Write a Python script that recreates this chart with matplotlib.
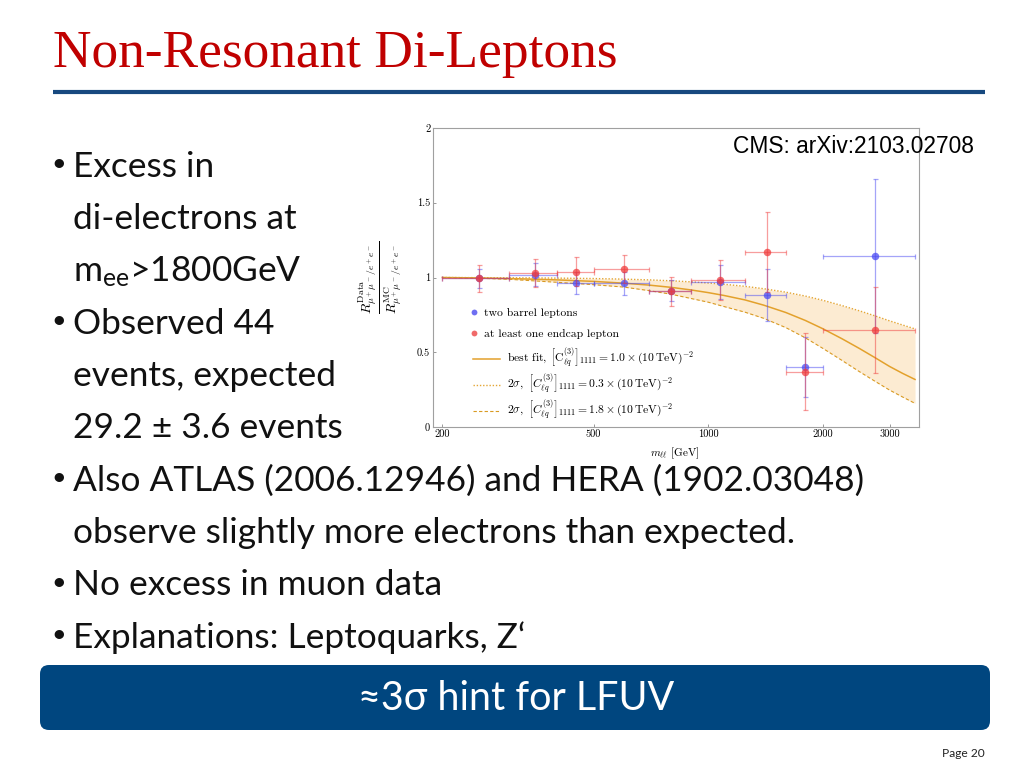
import matplotlib
matplotlib.use('Agg')
import matplotlib.pyplot as plt
from matplotlib.patches import FancyBboxPatch
from matplotlib.lines import Line2D
from matplotlib.ticker import NullLocator

plt.rcParams['mathtext.fontset'] = 'cm'
plt.rcParams['axes.unicode_minus'] = False

# ---------------- data ----------------
bin_lo = [200, 300, 400, 500, 700, 900, 1250, 1600, 2000]
bin_hi = [300, 400, 500, 700, 900, 1250, 1600, 2000, 3500]
barrel_ratio = [0.995, 1.02, 0.961, 0.961, 0.91, 0.968, 0.883, 0.403, 1.144]
barrel_err = [0.065, 0.08, 0.073, 0.078, 0.07, 0.115, 0.173, 0.20, 0.513]
endcap_ratio = [0.995, 1.03, 1.039, 1.055, 0.907, 0.983, 1.171, 0.37, 0.649]
endcap_err = [0.09, 0.095, 0.096, 0.095, 0.097, 0.135, 0.27, 0.257, 0.285]

fit_mass = [200, 250, 300, 400, 500, 600, 700, 800, 900, 1000, 1100, 1250, 1400,
            1600, 1800, 2000, 2250, 2500, 2750, 3000, 3250, 3500]
fit_best = [1.0, 0.997, 0.993, 0.984, 0.974, 0.962, 0.949, 0.934, 0.917, 0.899, 0.880,
            0.850, 0.815, 0.766, 0.713, 0.658, 0.590, 0.525, 0.463, 0.405, 0.358, 0.318]
fit_upper = [1.0, 0.999, 0.998, 0.996, 0.993, 0.989, 0.984, 0.978, 0.971, 0.963, 0.955,
             0.941, 0.925, 0.902, 0.876, 0.848, 0.812, 0.777, 0.743, 0.710, 0.682, 0.656]
fit_lower = [1.0, 0.995, 0.988, 0.968, 0.952, 0.936, 0.912, 0.888, 0.860, 0.835, 0.806,
             0.768, 0.727, 0.665, 0.597, 0.527, 0.445, 0.370, 0.305, 0.247, 0.200, 0.158]

x_ticks = [200, 500, 1000, 2000, 3000]
y_ticks = [0, 0.5, 1, 1.5, 2]
y_tick_labels = ['0', '0.5', '1', '1.5', '2']

title = 'Non-Resonant Di-Leptons'
body_lines = [
    (True, 'Excess in'),
    (False, 'di-electrons at'),
    (False, r'$\mathregular{m_{ee}}$>1800GeV'),
    (True, 'Observed 44'),
    (False, 'events, expected'),
    (False, '29.2 ± 3.6 events'),
    (True, 'Also ATLAS (2006.12946) and HERA (1902.03048)'),
    (False, 'observe slightly more electrons than expected.'),
    (True, 'No excess in muon data'),
    (True, 'Explanations: Leptoquarks, Z‘'),
]
box_text = '≈3σ hint for LFUV'
source_text = 'CMS: arXiv:2103.02708'
page_text = 'Page 20'

# ---------------- figure ----------------
fig = plt.figure(figsize=(10.24, 7.68), dpi=100)
bg = fig.add_axes([0, 0, 1, 1])
bg.set_xlim(0, 1024)
bg.set_ylim(768, 0)
bg.axis('off')
renderer = fig.canvas.get_renderer()


def fit_width(t, target):
    w = t.get_window_extent(renderer).width
    t.set_fontsize(t.get_fontsize() * target / w)
    return t.get_fontsize()


body_font = ['Lato', 'DejaVu Sans']

t = bg.text(53, 67, title, family='Liberation Serif', color='#c00000',
            fontsize=36, va='baseline', ha='left')
fit_width(t, 564)

bg.plot([53, 985], [92, 92], color='#17497f', lw=3.0, solid_capstyle='butt')

# body text
probe = bg.text(73, 0, body_lines[6][1], family=body_font, fontsize=24, va='baseline')
body_size = fit_width(probe, 793)
probe.remove()
baseline0 = 177
step = 52.3
for i, (bullet, txt) in enumerate(body_lines):
    yb = baseline0 + i * step
    if bullet:
        bg.text(59, yb - 13, '•', family=body_font, fontsize=body_size * 0.72,
                va='center', ha='center', color='#111111')
    bg.text(73, yb, txt, family=body_font, fontsize=body_size, va='baseline',
            color='#111111')

box = FancyBboxPatch((40, 665), 950, 65, boxstyle='round,pad=0,rounding_size=9',
                     fc='#00467f', ec='none')
bg.add_patch(box)
t = bg.text(516, 710, box_text, family=body_font, color='white', fontsize=26,
            ha='center', va='baseline')
fit_width(t, 317)

t = bg.text(942, 757, page_text, family=body_font, color='#222222', fontsize=8,
            va='baseline')
fit_width(t, 43)

# ---------------- chart ----------------
ax = fig.add_axes([433 / 1024, 1 - 427 / 768, 486 / 1024, 299 / 768])
ax.set_xscale('log')
ax.set_xlim(189, 3585)
ax.set_ylim(0, 2)

gold = '#e3a12c'
gold_dot = '#e4a635'
gold_dash = '#d99a22'
ax.fill_between(fit_mass, fit_lower, fit_upper, color='#fcebd2', lw=0, zorder=1)
ax.plot(fit_mass, fit_best, color=gold, lw=1.1, zorder=2)
ax.plot(fit_mass, fit_upper, color=gold_dot, lw=1.0, ls=(0, (1, 1.3)), zorder=2)
ax.plot(fit_mass, fit_lower, color=gold_dash, lw=0.8, ls=(0, (3, 2)), zorder=2)

centers = [(lo + hi) / 2 for lo, hi in zip(bin_lo, bin_hi)]
xerr = [[c - lo for c, lo in zip(centers, bin_lo)],
        [hi - c for c, hi in zip(centers, bin_hi)]]
blue = '#4a4af2'
red = '#f03c3c'
for vals, errs, col, z in [(barrel_ratio, barrel_err, blue, 3),
                           (endcap_ratio, endcap_err, red, 5)]:
    ax.errorbar(centers, vals, yerr=errs, xerr=xerr, fmt='none', ecolor=col,
                elinewidth=0.9, capsize=1.8, capthick=0.9, alpha=0.5, zorder=z)
    ax.plot(centers, vals, 'o', color=col, ms=5.4, mew=0, alpha=0.75, zorder=z + 1)

ax.set_xticks(x_ticks)
ax.xaxis.set_minor_locator(NullLocator())
ax.set_xticklabels(['%d' % v for v in x_ticks], fontsize=7.5, family='cmr10')
ax.set_yticks(y_ticks)
ax.set_yticklabels(y_tick_labels, fontsize=7.5, family='cmr10')
ax.tick_params(direction='in', length=2.5, width=0.6, color='#888888', pad=2)
for s in ax.spines.values():
    s.set_color('#a0a0a0')
    s.set_linewidth(0.8)

ax.set_ylabel(r'$\frac{R^{\mathrm{Data}}_{\mu^+\mu^-/e^+e^-}}{R^{\mathrm{MC}}_{\mu^+\mu^-/e^+e^-}}$',
              fontsize=14, rotation=90)
ax.yaxis.set_label_coords(-0.06, 0.5)
ax.set_xlabel(r'$m_{\ell\ell}$ [GeV]', fontsize=8, family='cmr10')
ax.xaxis.set_label_coords(0.498, -0.062)

leg_prop = {'family': 'cmr10', 'size': 8.4}
pt_handles = [Line2D([], [], marker='o', ls='none', color='#6f6ff2', ms=4.2, mew=0),
              Line2D([], [], marker='o', ls='none', color='#f06a6a', ms=4.2, mew=0)]
pt_labels = ['two barrel leptons', 'at least one endcap lepton']
leg1 = ax.legend(pt_handles, pt_labels, loc='upper left', bbox_to_anchor=(0.078, 0.397),
                 frameon=False, prop=leg_prop, handlelength=0.5, handletextpad=0.6,
                 labelspacing=0.9, borderpad=0, borderaxespad=0)
ax.add_artist(leg1)
ln_handles = [Line2D([], [], color=gold, lw=1.1),
              Line2D([], [], color=gold_dot, lw=1.0, ls=(0, (1, 1.3))),
              Line2D([], [], color=gold_dash, lw=0.8, ls=(0, (3, 2)))]
ln_labels = [r'best fit, $\left[\mathrm{C}^{(3)}_{\ell q}\right]_{1111} = 1.0\times(10\,\mathrm{TeV})^{-2}$',
             r'$2\sigma,\ \left[C^{(3)}_{\ell q}\right]_{1111} = 0.3\times(10\,\mathrm{TeV})^{-2}$',
             r'$2\sigma,\ \left[C^{(3)}_{\ell q}\right]_{1111} = 1.8\times(10\,\mathrm{TeV})^{-2}$']
ax.legend(ln_handles, ln_labels, loc='upper left', bbox_to_anchor=(0.082, 0.27),
          frameon=False, prop=leg_prop, handlelength=2.3, handletextpad=0.6,
          labelspacing=0.2, borderpad=0, borderaxespad=0)

t = fig.text(733 / 1024, 1 - 153 / 768, source_text, family='Liberation Sans',
             fontsize=13, va='baseline', color='black', zorder=10)
fit_width(t, 240)

fig.savefig('out.png', dpi=100)
